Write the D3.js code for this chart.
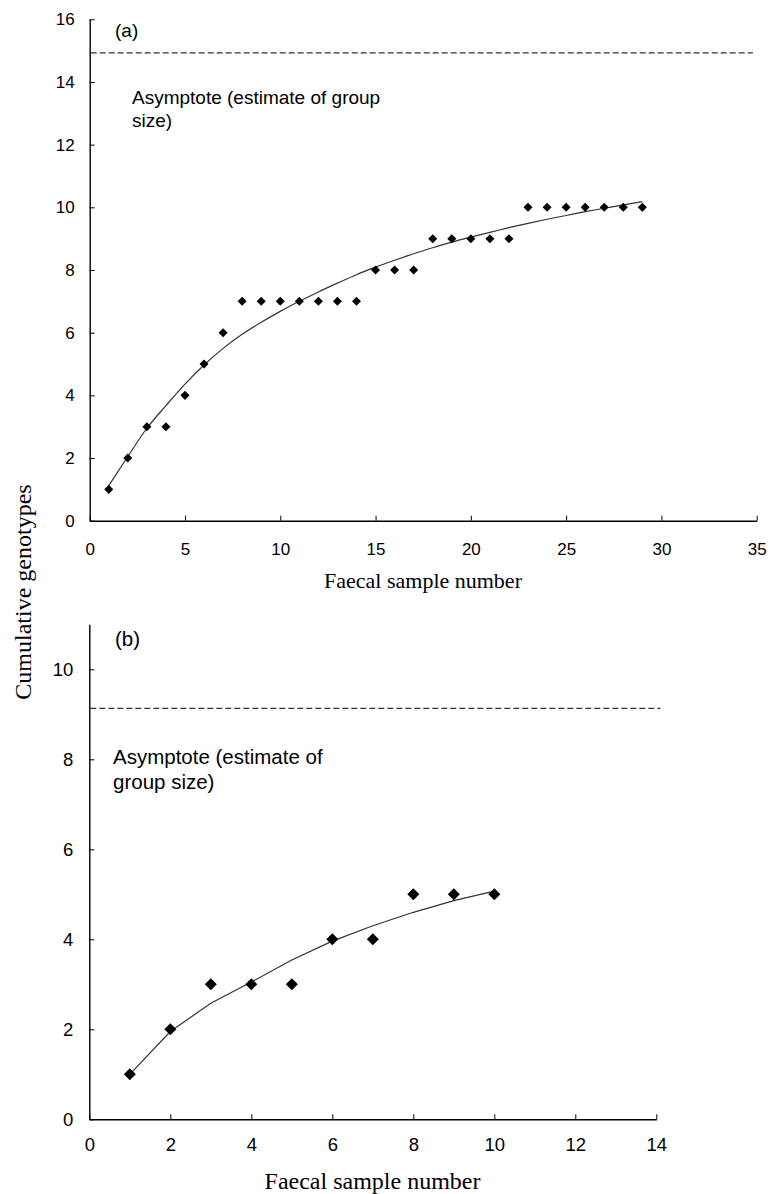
<!DOCTYPE html>
<html>
<head>
<meta charset="utf-8">
<script src="https://cdn.jsdelivr.net/npm/d3@7"></script>
<style>
  body { margin: 0; background: #fff; }
  .axis path, .axis line { stroke: #000; }
  .axis path { stroke-width: 1.4; }
  .axis text { font-family: "Liberation Sans", Arial, sans-serif; fill: #000; }
</style>
</head>
<body>
<svg id="chart" width="770" height="1194"></svg>
<script>
// panel (a)
const samplesA = [1, 2, 3, 4, 5, 6, 7, 8, 9, 10, 11, 12, 13, 14, 15, 16, 17, 18, 19, 20, 21, 22, 23, 24, 25, 26, 27, 28, 29];
const genotypesA = [1, 2, 3, 3, 4, 5, 6, 7, 7, 7, 7, 7, 7, 7, 8, 8, 8, 9, 9, 9, 9, 9, 10, 10, 10, 10, 10, 10, 10];
const fitA = [1.12, 2.05, 2.95, 3.67, 4.36, 4.97, 5.5, 5.95, 6.33, 6.68, 7.0, 7.3, 7.58, 7.85, 8.09, 8.31, 8.52, 8.71, 8.89, 9.05, 9.2, 9.35, 9.49, 9.62, 9.74, 9.86, 9.97, 10.08, 10.18];
const asymptoteA = 14.93, asymptoteEndA = 34.8;
const xTicksA = [0, 5, 10, 15, 20, 25, 30, 35];
const yTicksA = [0, 2, 4, 6, 8, 10, 12, 14, 16];

// panel (b)
const samplesB = [1, 2, 3, 4, 5, 6, 7, 8, 9, 10];
const genotypesB = [1, 2, 3, 3, 3, 4, 4, 5, 5, 5];
const fitB = [1.0, 1.95, 2.58, 3.05, 3.54, 3.96, 4.3, 4.6, 4.86, 5.07];
const asymptoteB = 9.13, asymptoteEndB = 14.1;
const xTicksB = [0, 2, 4, 6, 8, 10, 12, 14];
const yTicksB = [0, 2, 4, 6, 8, 10];

const svg = d3.select("#chart");

function panel(opts) {
  const x = d3.scaleLinear().domain(opts.xDomain).range(opts.xRange);
  const y = d3.scaleLinear().domain(opts.yDomain).range(opts.yRange);
  const g = svg.append("g");

  g.append("g")
    .attr("class", "axis")
    .attr("transform", `translate(0,${opts.yRange[0]})`)
    .call(d3.axisBottom(x).tickValues(opts.xTicks).tickSizeInner(-5).tickSizeOuter(0)
      .tickPadding(opts.xPad).tickFormat(d3.format("d")))
    .call(a => a.selectAll("text").attr("font-size", opts.tickFont));

  g.append("g")
    .attr("class", "axis")
    .attr("transform", `translate(${opts.xRange[0]},0)`)
    .call(d3.axisLeft(y).tickValues(opts.yTicks).tickSizeInner(-5).tickSizeOuter(0)
      .tickPadding(opts.yPad).tickFormat(d3.format("d")))
    .call(a => a.selectAll("text").attr("font-size", opts.tickFont));

  // asymptote
  g.append("line")
    .attr("x1", x(0) + 1).attr("x2", x(opts.asymEnd))
    .attr("y1", y(opts.asym)).attr("y2", y(opts.asym))
    .attr("stroke", "#333").attr("stroke-width", 1.2)
    .attr("stroke-dasharray", "6,3");

  // fitted curve
  g.append("path")
    .datum(opts.samples.map((s, i) => [s, opts.fit[i]]))
    .attr("fill", "none")
    .attr("stroke", "#333")
    .attr("stroke-width", 1.2)
    .attr("d", d3.line().x(d => x(d[0])).y(d => y(d[1])).curve(opts.curve));

  // observed
  g.selectAll(".pt")
    .data(opts.samples.map((s, i) => [s, opts.values[i]]))
    .join("path")
    .attr("class", "pt")
    .attr("d", d3.symbol(d3.symbolSquare, opts.markSize))
    .attr("transform", d => `translate(${x(d[0])},${y(d[1])}) rotate(45)`)
    .attr("fill", "#000");

  const txt = (tx, ty, s, size) => g.append("text")
    .attr("x", tx).attr("y", ty)
    .attr("font-family", "Liberation Sans, Arial, sans-serif")
    .attr("font-size", size)
    .text(s);

  txt(opts.tag[0], opts.tag[1], opts.tagText, opts.noteFont);
  opts.note.forEach((line, i) =>
    txt(opts.notePos[0], opts.notePos[1] + i * opts.noteGap, line, opts.noteFont));

  g.append("text")
    .attr("x", opts.xLabelPos[0]).attr("y", opts.xLabelPos[1])
    .attr("text-anchor", "middle")
    .attr("font-family", "Liberation Serif, Times New Roman, serif")
    .attr("font-size", opts.labelFont)
    .text("Faecal sample number");
}

panel({
  xDomain: [0, 35], xRange: [89.7, 756.7],
  yDomain: [0, 16], yRange: [520.7, 19.3],
  xTicks: xTicksA, yTicks: yTicksA, xPad: 22, yPad: 15, tickFont: 17,
  samples: samplesA, values: genotypesA, fit: fitA, curve: d3.curveMonotoneX,
  asym: asymptoteA, asymEnd: asymptoteEndA, markSize: 41,
  tag: [115, 37], tagText: "(a)",
  note: ["Asymptote (estimate of group", "size)"], notePos: [132, 104], noteGap: 23, noteFont: 19,
  xLabelPos: [423, 588], labelFont: 22
});

panel({
  xDomain: [0, 14], xRange: [89.3, 656.3],
  yDomain: [0, 11], yRange: [1119.3, 624.3],
  xTicks: xTicksB, yTicks: yTicksB, xPad: 18.6, yPad: 16, tickFont: 18.5,
  samples: samplesB, values: genotypesB, fit: fitB, curve: d3.curveLinear,
  asym: asymptoteB, asymEnd: asymptoteEndB, markSize: 72,
  tag: [115, 645.5], tagText: "(b)",
  note: ["Asymptote (estimate of", "group size)"], notePos: [113, 764], noteGap: 25, noteFont: 20.5,
  xLabelPos: [372.5, 1189], labelFont: 24
});

// shared y label
svg.append("text")
  .attr("transform", "translate(31,592) rotate(-90)")
  .attr("text-anchor", "middle")
  .attr("font-family", "Liberation Serif, Times New Roman, serif")
  .attr("font-size", 24)
  .text("Cumulative genotypes");
</script>
</body>
</html>
